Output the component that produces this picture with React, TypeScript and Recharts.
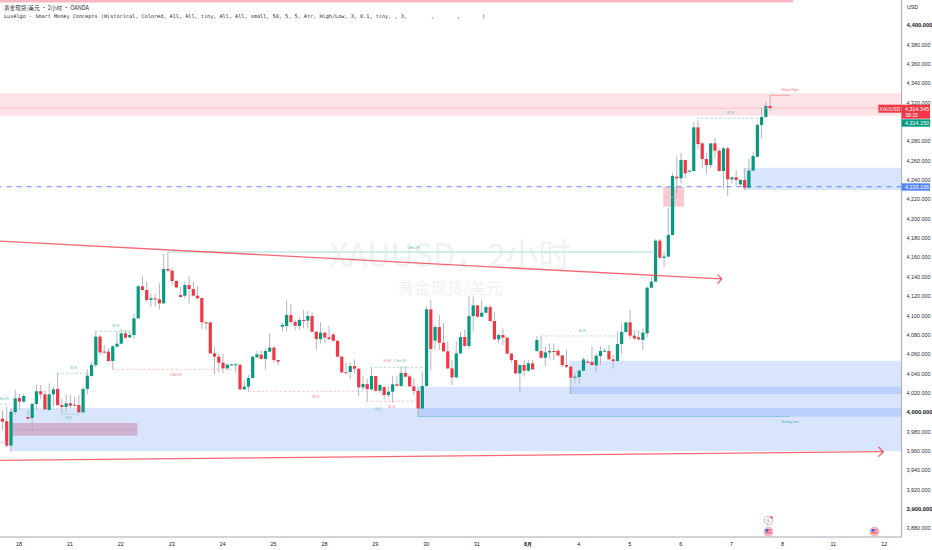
import { Bar, ComposedChart, ReferenceArea, ReferenceDot, ReferenceLine, XAxis, YAxis } from "recharts";

const UP = "#089981";
const DOWN = "#f23645";
const WICK = "#b4b6bd";
const ZONE_BLUE = "#2f6fee";
const FONT = "'Liberation Sans', Arial, sans-serif";

// OHLC per 2h bar
const opens = [
  3993.4, 3990.7, 3965.5, 4000.3, 4014.8, 4011.0, 3995.1, 3994.1, 4008.6, 4021.7, 4018.6, 4002.4, 4018.6, 4024.1, 4007.5, 4005.5, 4009.3, 4007.9, 4007.5, 4000.0,
  4024.1, 4037.5, 4048.9, 4078.2, 4062.7, 4062.7, 4053.0, 4067.8, 4070.9, 4081.6, 4077.5, 4079.9, 4097.1, 4130.2, 4126.4, 4116.1, 4117.8, 4116.7, 4112.6, 4148.1,
  4146.4, 4135.7, 4121.2, 4120.5, 4131.6, 4127.4, 4120.5, 4118.1, 4093.0, 4093.0, 4060.9, 4057.5, 4051.3, 4045.4, 4048.5, 4048.9, 4049.2, 4023.7, 4026.5, 4035.4,
  4056.8, 4059.6, 4055.1, 4062.7, 4066.8, 4054.0, 4088.5, 4089.2, 4100.6, 4093.3, 4089.2, 4095.4, 4094.7, 4099.5, 4083.3, 4075.7, 4082.3, 4077.4, 4080.5, 4074.0,
  4057.5, 4041.3, 4041.6, 4047.8, 4045.1, 4025.8, 4029.2, 4023.7, 4037.5, 4022.3, 4026.1, 4017.8, 4021.3, 4028.9, 4027.1, 4040.6, 4037.1, 4026.8, 4022.0, 4004.0,
  4027.1, 4106.4, 4074.0, 4088.1, 4071.9, 4063.0, 4045.4, 4036.1, 4060.9, 4077.8, 4068.5, 4099.5, 4110.5, 4098.8, 4102.9, 4108.8, 4094.3, 4075.4, 4079.9, 4077.1,
  4060.6, 4054.0, 4040.2, 4048.9, 4043.0, 4050.6, 4063.3, 4063.3, 4056.4, 4061.9, 4063.3, 4063.7, 4058.8, 4048.9, 4047.1, 4035.8, 4036.4, 4043.0, 4052.3, 4051.9,
  4048.5, 4058.2, 4063.0, 4063.3, 4054.7, 4053.0, 4070.6, 4083.0, 4092.9, 4079.2, 4077.4, 4074.8, 4081.6, 4128.8, 4135.0, 4177.4, 4159.5, 4160.9, 4183.3, 4243.6,
  4241.8, 4260.8, 4248.7, 4249.4, 4294.5, 4278.0, 4261.8, 4255.6, 4278.0, 4270.4, 4249.4, 4272.8, 4240.8, 4242.9, 4235.6, 4240.1, 4232.2, 4249.8, 4264.2, 4297.0,
  4305.2, 4316.6,
];
const highs = [
  4002.4, 4005.8, 4004.1, 4023.0, 4018.9, 4018.9, 4002.4, 4010.0, 4028.2, 4028.2, 4023.0, 4029.9, 4026.5, 4040.3, 4014.4, 4018.9, 4017.9, 4016.1, 4017.9, 4026.5,
  4044.4, 4052.3, 4084.0, 4079.9, 4069.5, 4066.1, 4069.5, 4083.3, 4086.4, 4085.1, 4084.0, 4101.6, 4131.6, 4141.2, 4135.0, 4123.0, 4122.3, 4133.3, 4163.6, 4165.3,
  4148.1, 4136.7, 4129.8, 4135.0, 4140.9, 4135.0, 4130.5, 4118.1, 4093.3, 4093.0, 4067.1, 4060.2, 4060.2, 4050.6, 4049.9, 4050.6, 4049.6, 4033.4, 4038.5, 4058.2,
  4063.7, 4063.7, 4066.1, 4081.6, 4068.8, 4054.0, 4092.6, 4115.4, 4111.9, 4095.4, 4098.1, 4105.7, 4104.7, 4103.3, 4083.3, 4093.3, 4083.3, 4089.2, 4081.6, 4074.0,
  4058.2, 4051.3, 4051.3, 4054.7, 4045.1, 4037.5, 4035.1, 4046.4, 4037.5, 4029.2, 4027.1, 4026.5, 4037.5, 4036.8, 4047.8, 4047.8, 4038.5, 4035.1, 4026.5, 4042.0,
  4109.8, 4116.0, 4090.2, 4100.5, 4092.6, 4073.0, 4054.0, 4073.0, 4083.3, 4085.7, 4120.2, 4119.5, 4110.9, 4116.7, 4110.9, 4110.9, 4104.0, 4081.6, 4086.7, 4078.1,
  4061.6, 4054.0, 4048.9, 4054.0, 4054.0, 4054.0, 4078.8, 4078.8, 4067.8, 4071.2, 4071.2, 4065.0, 4059.2, 4064.4, 4047.8, 4040.9, 4044.4, 4056.8, 4054.7, 4068.5,
  4060.9, 4068.5, 4066.1, 4069.5, 4059.2, 4083.3, 4091.9, 4093.6, 4105.7, 4085.0, 4085.0, 4086.8, 4129.9, 4140.2, 4179.1, 4179.1, 4166.0, 4211.5, 4247.0, 4264.2,
  4267.7, 4260.8, 4250.5, 4299.7, 4302.1, 4279.0, 4267.7, 4278.0, 4284.2, 4272.8, 4274.6, 4274.6, 4243.6, 4250.5, 4240.8, 4252.2, 4261.8, 4269.4, 4299.4, 4314.9,
  4321.1, 4328.0,
];
const lows = [
  3981.7, 3963.8, 3959.3, 3997.2, 4002.4, 4010.0, 3992.7, 3981.7, 4002.4, 4013.4, 4002.4, 4001.7, 4005.8, 4006.5, 3997.9, 4000.6, 4004.1, 4005.8, 3999.6, 3999.6,
  4018.6, 4036.8, 4046.5, 4059.2, 4060.9, 4052.3, 4044.4, 4067.1, 4070.2, 4076.4, 4076.4, 4076.1, 4096.8, 4125.4, 4114.3, 4109.2, 4109.2, 4106.4, 4111.9, 4145.3,
  4131.6, 4128.1, 4118.5, 4117.8, 4111.9, 4119.5, 4117.1, 4086.4, 4085.1, 4060.2, 4039.6, 4041.0, 4040.3, 4043.0, 4048.2, 4041.0, 4023.0, 4023.0, 4021.3, 4035.1,
  4055.8, 4054.7, 4044.4, 4062.0, 4051.3, 4048.9, 4083.3, 4083.3, 4092.0, 4085.1, 4085.1, 4086.8, 4086.7, 4082.6, 4065.0, 4071.2, 4071.2, 4074.7, 4073.0, 4056.8,
  4040.2, 4040.2, 4034.0, 4040.2, 4016.8, 4023.0, 4010.9, 4022.3, 4021.3, 4020.3, 4013.4, 4015.4, 4009.9, 4026.5, 4026.5, 4036.1, 4026.5, 4017.8, 3995.4, 4003.4,
  4026.5, 4043.0, 4065.0, 4064.4, 4062.6, 4044.4, 4028.2, 4035.1, 4060.2, 4067.8, 4066.1, 4083.3, 4098.1, 4098.1, 4102.2, 4093.6, 4074.7, 4071.2, 4069.5, 4060.2,
  4051.3, 4039.5, 4020.9, 4036.8, 4042.0, 4043.7, 4062.6, 4055.7, 4047.1, 4055.7, 4054.0, 4058.2, 4046.4, 4045.4, 4018.9, 4029.9, 4029.2, 4042.0, 4050.6, 4047.8,
  4042.0, 4048.9, 4062.6, 4054.0, 4045.1, 4052.3, 4060.9, 4082.3, 4075.4, 4074.7, 4074.7, 4064.4, 4077.2, 4128.2, 4134.4, 4158.5, 4150.5, 4160.2, 4182.6, 4224.6,
  4236.7, 4241.8, 4248.0, 4248.7, 4272.2, 4252.9, 4247.0, 4252.2, 4261.8, 4248.7, 4230.8, 4223.6, 4236.7, 4233.2, 4234.9, 4229.8, 4231.5, 4249.1, 4263.5, 4283.2,
  4304.5, 4311.4,
];
const closes = [
  3990.3, 3965.5, 4000.6, 4014.4, 4011.0, 4016.8, 3993.4, 4008.6, 4021.7, 4018.6, 4003.1, 4018.6, 4023.7, 4007.5, 4005.5, 4009.3, 4006.8, 4007.4, 4000.0, 4024.1,
  4037.9, 4048.9, 4078.2, 4062.0, 4062.0, 4053.0, 4068.2, 4070.9, 4081.6, 4077.1, 4079.9, 4097.1, 4130.2, 4126.4, 4116.1, 4117.8, 4116.7, 4112.6, 4148.1, 4146.4,
  4135.7, 4129.1, 4119.2, 4131.6, 4127.4, 4120.5, 4117.8, 4093.0, 4092.6, 4060.9, 4057.5, 4051.3, 4045.4, 4049.2, 4049.6, 4049.6, 4023.7, 4026.5, 4035.4, 4057.5,
  4059.9, 4055.1, 4063.3, 4066.8, 4054.0, 4052.3, 4090.2, 4100.6, 4093.3, 4089.5, 4095.4, 4094.7, 4099.5, 4083.3, 4075.7, 4082.3, 4077.4, 4075.7, 4074.0, 4057.5,
  4041.3, 4040.9, 4047.8, 4045.1, 4025.8, 4029.2, 4024.0, 4037.5, 4022.3, 4028.2, 4017.8, 4021.3, 4028.9, 4027.5, 4040.6, 4036.8, 4026.8, 4022.0, 4004.0, 4027.1,
  4106.4, 4065.4, 4088.1, 4071.9, 4063.0, 4045.4, 4036.1, 4060.9, 4077.8, 4068.5, 4099.5, 4110.5, 4098.8, 4102.9, 4108.8, 4094.3, 4075.4, 4079.9, 4077.1, 4060.6,
  4054.0, 4040.2, 4048.9, 4043.0, 4050.6, 4044.4, 4074.7, 4056.4, 4061.9, 4063.3, 4062.9, 4058.8, 4048.9, 4047.1, 4035.8, 4036.8, 4043.0, 4054.7, 4051.3, 4048.9,
  4058.5, 4063.3, 4063.7, 4054.7, 4053.0, 4070.6, 4083.0, 4092.9, 4079.2, 4076.4, 4075.4, 4082.3, 4128.8, 4135.0, 4177.4, 4159.8, 4160.9, 4183.3, 4244.3, 4241.8,
  4260.8, 4247.0, 4249.8, 4294.5, 4277.3, 4261.8, 4255.6, 4278.0, 4270.4, 4249.4, 4272.8, 4240.8, 4242.9, 4240.1, 4240.1, 4232.2, 4249.8, 4264.9, 4297.0, 4305.2,
  4316.6, 4314.3,
];

const tableData = opens.map((open, i) => ({ i, open, high: highs[i], low: lows[i], close: closes[i] }));

const X_MIN = -0.5;
const X_MAX = 212.1;
const Y_MIN = 3871.1;
const Y_MAX = 4426.15;

const xTicks = [4, 16, 28, 40, 52, 64, 76, 88, 100, 112, 124, 136, 148, 160, 172, 184, 196, 208];
const xTickLabels = ["18", "21", "22", "23", "24", "25", "28", "29", "30", "31", "8月", "4", "5", "6", "7", "8", "11", "12"];
const yTicks = [
  3880, 3900, 3920, 3940, 3960, 3980, 4000, 4020, 4040, 4060, 4080, 4100, 4120, 4140, 4160, 4180, 4200, 4220, 4240, 4260,
  4280, 4300, 4320, 4340, 4360, 4380, 4400,
];
const strongTicks = [3900, 4000, 4400];

// zones: [x1, x2, top price, bottom price, fill, opacity]
const zones: [number, number, number, number, string, number][] = [
  [X_MIN, 186.5, Y_MAX, 4423.6, "#f7b7c1", 1],
  [X_MIN, X_MAX, 4329.7, 4306.6, "#f23645", 0.14],
  [174.8, X_MAX, 4252.8, 4229.8, ZONE_BLUE, 0.18],
  [155.9, 160.8, 4233.1, 4212.5, "#f23645", 0.26],
  [1.9, X_MAX, 4004.4, 3959.7, ZONE_BLUE, 0.18],
  [98, X_MAX, 4026.5, 3995.5, ZONE_BLUE, 0.18],
  [133.8, X_MAX, 4053.3, 4018.9, ZONE_BLUE, 0.18],
  [2.3, 31.9, 3988.9, 3975.8, "#c2688f", 0.4],
];

// structure lines: [x1, x2, price, colour, dash, width]
const levels: [number, number, number, string, string, number][] = [
  [22, 30.2, 4083.7, "#9fd6cb", "2.5 2", 0.8],
  [13, 20, 4040.3, "#9fd6cb", "2.5 2", 0.8],
  [X_MIN, 2, 4008.6, "#9fd6cb", "2.5 2", 0.8],
  [13.9, 18.4, 3998.2, "#a9d5d8", "", 0.8],
  [26, 55.6, 4044.4, "#f8b8bf", "2.5 2", 0.8],
  [58, 86, 4021.7, "#f8b8bf", "2.5 2", 0.8],
  [86.8, 99.2, 4046.5, "#9fd6cb", "2.5 2", 0.8],
  [85.8, 97, 4011.4, "#f8b8bf", "2.5 2", 0.8],
  [127, 144.8, 4078.9, "#9fd6cb", "2.5 2", 0.8],
  [163.8, 178.3, 4303.9, "#9fd6cb", "2.5 2", 0.8],
  [181, 185.8, 4327.6, "#f7a3ab", "", 1],
  [98, 185.8, 3995.7, "#7cc0d9", "", 0.8],
  [38.9, 153.8, 4165.7, "#c6e7e1", "", 1.5],
  [155.9, 160.8, 4222.3, "#e39aa8", "2 2", 0.7],
  [2.3, 31.9, 3982, "#b98fb0", "2 2", 0.7],
  [X_MIN, 1, 3969, "#f8b8bf", "", 0.8],
];

// trend lines and their arrow heads: [x1, price1, x2, price2]
const trendLines: [number, number, number, number][] = [
  [X_MIN, 4177, 169.7, 4137.8],
  [168.7, 4142.6, 169.7, 4137.8],
  [168.7, 4132.9, 169.7, 4137.8],
  [X_MIN, 3950.2, 207.8, 3959.3],
  [206.6, 3964.4, 207.8, 3959.3],
  [206.6, 3954.1, 207.8, 3959.3],
];

// small labels: [text, x, price, colour]
const notes: [string, number, number, string][] = [
  ["Weak High", 185.8, 4333.4, "#f0707c"],
  ["Strong Low", 185.8, 3990, "#3fae9c"],
  ["BOS", 26.8, 4089.9, "#5fbfad"],
  ["BOS", 16.9, 4046.5, "#5fbfad"],
  ["CHoCH", 0.2, 4014.1, "#5fbfad"],
  ["EQL", 15.8, 3994.1, "#5fbfad"],
  ["CHoCH", 40.9, 4038.9, "#f0808b"],
  ["BOS", 74, 4015.8, "#f0808b"],
  ["EQH", 90.8, 4053, "#f0808b"],
  ["CHoCH", 93.8, 4053, "#5fbfad"],
  ["EQL", 88.8, 4004.1, "#5fbfad"],
  ["BOS", 91.9, 4005.8, "#f0808b"],
  ["BOS", 136.8, 4084.3, "#5fbfad"],
  ["BOS", 171.8, 4309.7, "#5fbfad"],
  ["CHoCH", 96.9, 4169.8, "#5fbfad"],
];

// event icons on the time scale: [x, price]
const eventFlags: [number, number][] = [
  [180.7, 3876.6],
  [205.7, 3876.6],
];
const lastClose = 4314.3;
const alertLevel = 4233.1;

function Candle(props: any) {
  const { x, y, width, height, payload } = props;
  const h = Math.abs(height);
  const perUnit = h / Math.max(payload.high - payload.low, 0.01);
  const bodyHi = Math.max(payload.open, payload.close);
  const bodyLo = Math.min(payload.open, payload.close);
  const top = y + (payload.high - bodyHi) * perUnit;
  const bodyH = Math.max((bodyHi - bodyLo) * perUnit, 1);
  const cx = x + width / 2;
  const color = payload.close >= payload.open ? UP : DOWN;
  return (
    <g>
      <line x1={cx} x2={cx} y1={y} y2={y + h} stroke={WICK} strokeWidth={1} />
      <rect x={cx - 1.6} y={top} width={3.2} height={bodyH} fill={color} />
    </g>
  );
}

function PriceTick(props: any) {
  const { x, y, payload } = props;
  const strong = strongTicks.includes(payload.value);
  const label = payload.value.toLocaleString("en-US", { minimumFractionDigits: 3 });
  return (
    <text x={x - 3} y={y + 2} fontSize={strong ? 5.8 : 5.4} fontFamily={FONT} fill={strong ? "#131722" : "#2a2e39"} fontWeight={strong ? 600 : 400}>
      {label}
    </text>
  );
}

function TimeTick(props: any) {
  const { x, y, payload } = props;
  const label = xTickLabels[xTicks.indexOf(payload.value)];
  return (
    <text x={x} y={y + 1} fontSize={5.4} fontFamily={FONT} fill="#131722" textAnchor="middle" fontWeight={label === "8月" ? 700 : 400}>
      {label}
    </text>
  );
}

function FlagIcon({ cx, cy }: any) {
  return (
    <g>
      <circle cx={cx} cy={cy} r={4.6} fill="#f7b9c0" stroke="#f6a0aa" strokeWidth={0.6} />
      <rect x={cx - 3} y={cy - 2.6} width={3} height={2.6} fill="#2962ff" />
      <rect x={cx} y={cy - 2.2} width={3} height={0.9} fill="#f23645" />
      <rect x={cx - 3} y={cy + 0.8} width={6} height={0.9} fill="#f23645" />
    </g>
  );
}

export default function App() {
  return (
    <div style={{ position: "absolute", left: 0, top: 0, width: 932, height: 550, background: "#fff", overflow: "hidden" }}>
      {/* watermark sits under the chart */}
      <svg width={932} height={550} style={{ position: "absolute", left: 0, top: 0 }}>
        <text x={450} y={267} textAnchor="middle" fontSize={32.5} fontFamily="'Noto Sans CJK SC', 'Liberation Sans', sans-serif" fill="#f0f1f3">
          XAUUSD，2小时
        </text>
        <text x={450} y={294} textAnchor="middle" fontSize={16.4} fontFamily="'Noto Sans CJK SC', sans-serif" fill="#f0f1f3">
          黄金现货/美元
        </text>
      </svg>

      <div style={{ position: "absolute", left: 0, top: 0 }}>
        <ComposedChart width={932} height={550} data={tableData} margin={{ top: 0, right: 0, bottom: 0, left: 0 }}>
          <XAxis
            dataKey="i"
            type="number"
            domain={[X_MIN, X_MAX]}
            allowDataOverflow
            ticks={xTicks}
            interval={0}
            height={13}
            tick={<TimeTick />}
            tickLine={false}
            axisLine={{ stroke: "#a6a8ae" }}
          />
          <YAxis
            orientation="right"
            type="number"
            domain={[Y_MIN, Y_MAX]}
            allowDataOverflow
            ticks={yTicks}
            interval={0}
            width={30.4}
            tick={<PriceTick />}
            tickLine={false}
            axisLine={{ stroke: "#a6a8ae" }}
          />

          {zones.map(([x1, x2, y1, y2, fill, opacity], k) => (
            <ReferenceArea key={`z${k}`} x1={x1} x2={x2} y1={y1} y2={y2} fill={fill} fillOpacity={opacity} stroke="none" ifOverflow="hidden" />
          ))}
          <ReferenceLine y={lastClose} stroke="#f7a9b1" strokeOpacity={0.7} strokeWidth={0.8} />
          <ReferenceLine y={alertLevel} stroke="#2962ff" strokeOpacity={0.75} strokeWidth={1.2} strokeDasharray="5 5" />
          {levels.map(([x1, x2, y, color, dash, w], k) => (
            <ReferenceLine
              key={`l${k}`}
              segment={[{ x: x1, y }, { x: x2, y }]}
              stroke={color}
              strokeWidth={w}
              strokeDasharray={dash}
              ifOverflow="hidden"
            />
          ))}

          <Bar dataKey={(d: any) => [d.low, d.high]} barSize={3} shape={<Candle />} isAnimationActive={false} />

          {trendLines.map(([x1, y1, x2, y2], k) => (
            <ReferenceLine
              key={`t${k}`}
              segment={[{ x: x1, y: y1 }, { x: x2, y: y2 }]}
              stroke={DOWN}
              strokeOpacity={0.75}
              strokeWidth={1.3}
              ifOverflow="hidden"
            />
          ))}
          {notes.map(([text, x, y, color], k) => (
            <ReferenceDot
              key={`n${k}`}
              x={x}
              y={y}
              r={0}
              stroke="none"
              ifOverflow="hidden"
              label={{ value: text, position: "center", fontSize: 3.4, fill: color, fontFamily: FONT }}
            />
          ))}
          {eventFlags.map(([x, y], k) => (
            <ReferenceDot key={`e${k}`} x={x} y={y} ifOverflow="hidden" shape={<FlagIcon />} />
          ))}
        </ComposedChart>
      </div>

      {/* pane furniture: legend text and price scale tags */}
      <svg width={932} height={550} style={{ position: "absolute", left: 0, top: 0, pointerEvents: "none" }}>
        <text x={4} y={10} fontSize={5.6} fontFamily="'Noto Sans CJK SC', 'DejaVu Sans Mono', monospace" fill="#2a2e39">
          黄金现货/美元 • 2小时 • OANDA
        </text>
        <text x={4} y={18} fontSize={5.2} fontFamily="'DejaVu Sans Mono', monospace" fill="#2a2e39">
          LuxAlgo - Smart Money Concepts (Historical, Colored, All, All, tiny, All, All, small, 50, 5, 5, Atr, High/Low, 3, 0.1, tiny, , 3,
        </text>
        <text x={431} y={18} fontSize={5.2} fontFamily="'DejaVu Sans Mono', monospace" fill="#2a2e39">,</text>
        <text x={457} y={18} fontSize={5.2} fontFamily="'DejaVu Sans Mono', monospace" fill="#2a2e39">,</text>
        <text x={482} y={18} fontSize={5.2} fontFamily="'DejaVu Sans Mono', monospace" fill="#2a2e39">)</text>

        <text x={907} y={9} fontSize={5.2} fontFamily={FONT} fill="#131722">USD</text>

        <rect x={878.4} y={104.7} width={23} height={8} fill={DOWN} />
        <text x={890} y={110.7} textAnchor="middle" fontSize={5} fontFamily={FONT} fill="#fff">XAUUSD</text>
        <rect x={901.7} y={104.7} width={28.3} height={14} fill={DOWN} />
        <text x={905} y={110.7} fontSize={5.4} fontFamily={FONT} fill="#fff">4,314.345</text>
        <text x={905} y={117} fontSize={5.2} fontFamily={FONT} fill="#fff">38:15</text>
        <rect x={901.7} y={119.3} width={28.3} height={7.4} fill={UP} />
        <text x={905} y={125} fontSize={5.4} fontFamily={FONT} fill="#fff">4,314.150</text>
        <rect x={901.7} y={183.3} width={28.3} height={7.4} fill="#5585fb" />
        <text x={905} y={189} fontSize={5.4} fontFamily={FONT} fill="#fff">4,233.106</text>

        <circle cx={768.3} cy={520.3} r={4.2} fill="#fff" stroke="#c39ac9" strokeWidth={0.9} />
        <path d="M769 517.8 L767.3 520.6 L769 520.6 L767.6 522.8" fill="none" stroke="#a77fb3" strokeWidth={0.6} />
        <circle cx={771.6} cy={517.4} r={1.1} fill="#f23645" />
      </svg>
    </div>
  );
}
